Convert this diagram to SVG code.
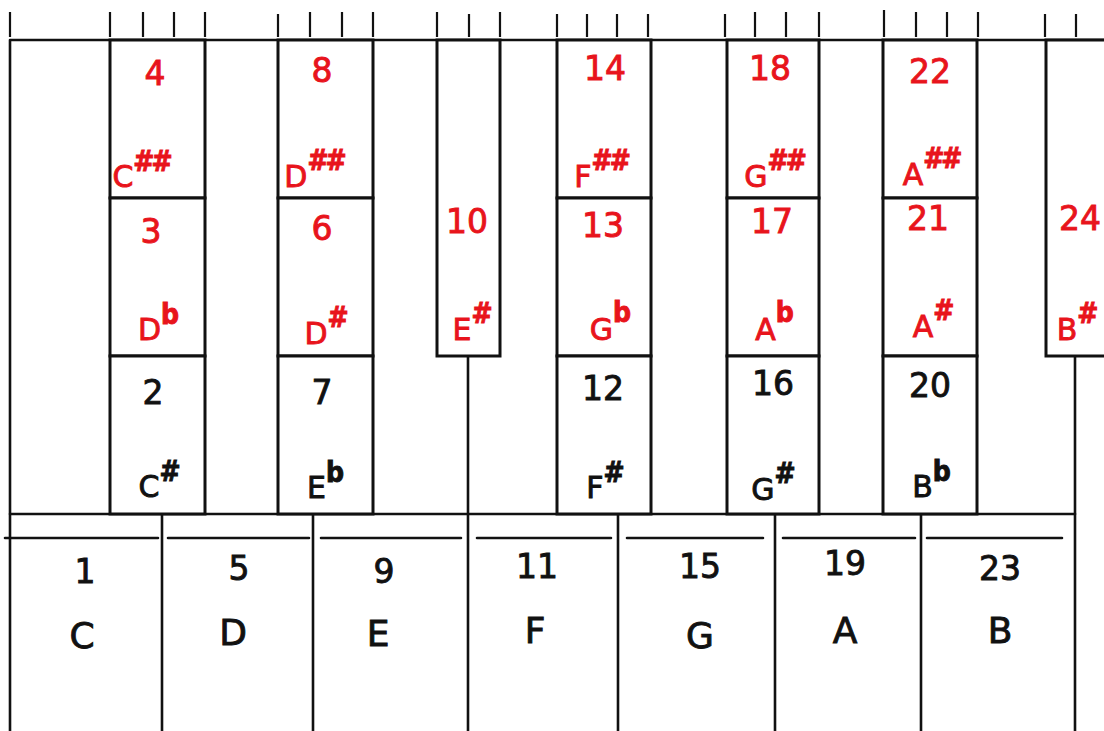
<svg xmlns="http://www.w3.org/2000/svg" width="1104" height="731" viewBox="0 0 1104 731">
<style>
.ln{stroke:#111;stroke-width:2.6;fill:none;stroke-linecap:round}
.tk{stroke:#111;stroke-width:2.2;fill:none}
.bx{stroke:#111;stroke-width:3;fill:#fff}
text{font-family:"DejaVu Sans","Noto Sans",sans-serif;text-anchor:middle;stroke-width:0.9}
.r{fill:#e8141c;stroke:#e8141c}
.b{fill:#111;stroke:#111}
.num{font-size:33px}
.nm{font-size:30px}
.wn{font-size:36px}
.sup{font-size:28px;font-family:"DejaVu Sans Condensed","DejaVu Sans",sans-serif;font-weight:bold;letter-spacing:-3px}
</style>
<rect width="1104" height="731" fill="#fff"/>
<g id="frame">
<path class="tk" d="M10 12V37M110 12V37M143 12V37M174 12V37M205 12V37M278 14V37M310 12V37M342 12V37M373 12V37M437 12V37M469 14V37M500 12V37M557 14V37M587 14V37M617 14V37M648 14V37M725 14V37M755 12V37M786 12V37M819 12V37M884 10V37M916 12V37M947 12V37M978 12V37M1045 14V37M1076 14V37"/>
<path class="ln" d="M10 40H1104M10 40V731"/>
<path class="ln" d="M10 514H1075"/>
<path class="ln" d="M5 538H158M168 538H309M321 538H461M477 538H611M627 538H763M783 538H915M927 538H1062"/>
</g>
<g id="connectors">
<path class="ln" d="M162 514V731M313 514V731M468 356V731M618 514V731M775 514V731M921 514V731M1075 356V731"/>
</g>
<g id="key-Cs">
<rect class="bx" x="110" y="40" width="95" height="158"/>
<rect class="bx" x="110" y="198" width="95" height="158"/>
<rect class="bx" x="110" y="356" width="95" height="158"/>
<text class="r num" x="155" y="85">4</text>
<text class="r nm" x="141" y="187">C<tspan class="sup" dy="-16">##</tspan></text>
<text class="r num" x="151" y="243">3</text>
<text class="r nm" x="157" y="340">D<tspan class="sup" dy="-16">b</tspan></text>
<text class="b num" x="153" y="404">2</text>
<text class="b nm" x="158" y="497">C<tspan class="sup" dy="-16">#</tspan></text>
</g>
<g id="key-Ds">
<rect class="bx" x="278" y="40" width="95" height="158"/>
<rect class="bx" x="278" y="198" width="95" height="158"/>
<rect class="bx" x="278" y="356" width="95" height="158"/>
<text class="r num" x="322" y="82">8</text>
<text class="r nm" x="314" y="187">D<tspan class="sup" dy="-17">##</tspan></text>
<text class="r num" x="322" y="240">6</text>
<text class="r nm" x="325" y="344">D<tspan class="sup" dy="-17">#</tspan></text>
<text class="b num" x="322" y="404">7</text>
<text class="b nm" x="324" y="498">E<tspan class="sup" dy="-16">b</tspan></text>
</g>
<g id="key-Es">
<rect class="bx" x="437" y="40" width="63" height="316"/>
<text class="r num" x="467" y="233">10</text>
<text class="r nm" x="471" y="340">E<tspan class="sup" dy="-17">#</tspan></text>
</g>
<g id="key-Fs">
<rect class="bx" x="557" y="40" width="94" height="158"/>
<rect class="bx" x="557" y="198" width="94" height="158"/>
<rect class="bx" x="557" y="356" width="94" height="158"/>
<text class="r num" x="605" y="80">14</text>
<text class="r nm" x="601" y="187">F<tspan class="sup" dy="-17">##</tspan></text>
<text class="r num" x="603" y="237">13</text>
<text class="r nm" x="609" y="340">G<tspan class="sup" dy="-18">b</tspan></text>
<text class="b num" x="603" y="400">12</text>
<text class="b nm" x="604" y="498">F<tspan class="sup" dy="-16">#</tspan></text>
</g>
<g id="key-Gs">
<rect class="bx" x="727" y="40" width="92" height="158"/>
<rect class="bx" x="727" y="198" width="92" height="158"/>
<rect class="bx" x="727" y="356" width="92" height="158"/>
<text class="r num" x="770" y="80">18</text>
<text class="r nm" x="774" y="187">G<tspan class="sup" dy="-17">##</tspan></text>
<text class="r num" x="772" y="233">17</text>
<text class="r nm" x="773" y="340">A<tspan class="sup" dy="-18">b</tspan></text>
<text class="b num" x="773" y="395">16</text>
<text class="b nm" x="772" y="500">G<tspan class="sup" dy="-17">#</tspan></text>
</g>
<g id="key-As">
<rect class="bx" x="883" y="40" width="94" height="158"/>
<rect class="bx" x="883" y="198" width="94" height="158"/>
<rect class="bx" x="883" y="356" width="94" height="158"/>
<text class="r num" x="930" y="83">22</text>
<text class="r nm" x="931" y="185">A<tspan class="sup" dy="-17">##</tspan></text>
<text class="r num" x="928" y="230">21</text>
<text class="r nm" x="932" y="337">A<tspan class="sup" dy="-17">#</tspan></text>
<text class="b num" x="930" y="397">20</text>
<text class="b nm" x="930" y="497">B<tspan class="sup" dy="-16">b</tspan></text>
</g>
<g id="key-Bs">
<rect class="bx" x="1046" y="40" width="70" height="316"/>
<text class="r num" x="1080" y="230">24</text>
<text class="r nm" x="1076" y="340">B<tspan class="sup" dy="-17">#</tspan></text>
</g>
<g id="key-C"><text class="b num" x="85" y="583">1</text><text class="b wn" x="82" y="648">C</text></g>
<g id="key-D"><text class="b num" x="239" y="580">5</text><text class="b wn" x="233" y="645">D</text></g>
<g id="key-E"><text class="b num" x="384" y="583">9</text><text class="b wn" x="378" y="646">E</text></g>
<g id="key-F"><text class="b num" x="537" y="578">11</text><text class="b wn" x="535" y="643">F</text></g>
<g id="key-G"><text class="b num" x="700" y="578">15</text><text class="b wn" x="700" y="648">G</text></g>
<g id="key-A"><text class="b num" x="845" y="575">19</text><text class="b wn" x="845" y="643">A</text></g>
<g id="key-B"><text class="b num" x="1000" y="580">23</text><text class="b wn" x="1000" y="643">B</text></g>
</svg>
